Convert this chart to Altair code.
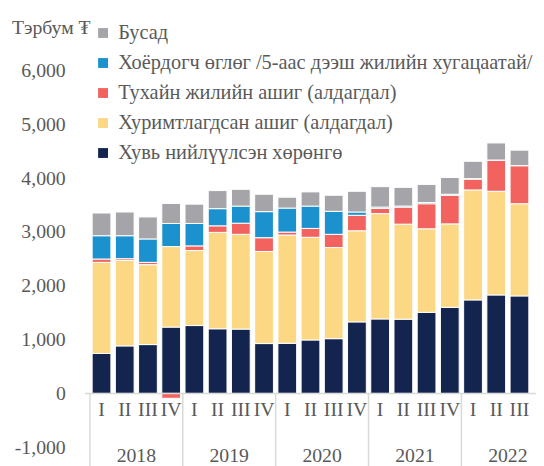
import altair as alt
import pandas as pd

quarters = ["I", "II", "III", "IV"] * 4 + ["I", "II", "III"]
years = [2018] * 4 + [2019] * 4 + [2020] * 4 + [2021] * 4 + [2022] * 3

series_names = [
    "Хувь нийлүүлсэн хөрөнгө",
    "Хуримтлагдсан ашиг (алдагдал)",
    "Тухайн жилийн ашиг (алдагдал)",
    "Хоёрдогч өглөг /5-аас дээш жилийн хугацаатай/",
    "Бусад",
]
series_colors = ["#13244f", "#fcd885", "#f2635f", "#1b91cd", "#a5a5a9"]

paid_in = [743, 884, 908, 1233, 1262, 1202, 1196, 927, 932, 994, 1018, 1330,
           1385, 1380, 1508, 1600, 1739, 1831, 1813]
retained = [1694, 1589, 1486, 1497, 1395, 1792, 1762, 1712, 2013, 1909, 1694, 1694,
            1958, 1767, 1553, 1552, 2044, 1927, 1714]
current_year = [62, 32, 43, -90, 86, 122, 207, 256, 55, 165, 246, 288,
                97, 317, 466, 532, 202, 581, 708]
subordinated = [433, 427, 435, 430, 417, 319, 318, 485, 446, 415, 427, 61,
                24, 19, 23, 19, 8, 0, 0]
other = [422, 441, 409, 372, 359, 336, 312, 323, 202, 264, 299, 385,
         380, 348, 336, 312, 323, 318, 288]

series_values = [paid_in, retained, current_year, subordinated, other]

rows = []
for s, (name, vals) in enumerate(zip(series_names, series_values)):
    for i, v in enumerate(vals):
        rows.append({"idx": i, "series": name, "ord": s, "value": v})
df = pd.DataFrame(rows)

qdf = pd.DataFrame({"idx": list(range(len(quarters))), "q": quarters})
year_list = sorted(set(years))
ydf = pd.DataFrame({
    "year": [str(y) for y in year_list],
    "pos": [years.index(y) + 1.5 for y in year_list],
})
sdf = pd.DataFrame({"b": [years.index(y) - 0.5 for y in year_list]})

FONT = "Liberation Serif, serif"
GREY = "#595959"
xscale = alt.Scale(domain=[-0.5, 18.5], nice=False, zero=False)
yscale = alt.Scale(domain=[-1000, 7000], nice=False)

bars = alt.Chart(df).mark_bar(size=19, stroke="white", strokeWidth=1).encode(
    x=alt.X("idx:Q", scale=xscale, axis=None),
    y=alt.Y("value:Q", stack="zero", scale=yscale,
            axis=alt.Axis(values=[-1000, 0, 1000, 2000, 3000, 4000, 5000, 6000],
                          labelExpr="(datum.value < 0 ? '-' : '') + format(abs(datum.value), ',')",
                          title=None, domain=False, ticks=False,
                          grid=False, labelFont=FONT, labelFontSize=20,
                          labelColor=GREY, labelPadding=20)),
    color=alt.Color("series:N",
                    scale=alt.Scale(domain=series_names[::-1], range=series_colors[::-1]),
                    legend=alt.Legend(title=None, orient="none", legendX=8, legendY=6,
                                      symbolType="square", symbolSize=100,
                                      symbolStrokeWidth=0, labelFont=FONT,
                                      labelFontSize=20.6, labelColor=GREY,
                                      labelLimit=1000, rowPadding=9.4, labelOffset=5)),
    order=alt.Order("ord:Q", sort="ascending"),
)

zero_line = alt.Chart(pd.DataFrame({"z": [0]})).mark_rule(color="#d9d9d9", strokeWidth=1.5).encode(
    y=alt.Y("z:Q", scale=yscale)
)

seps = alt.Chart(sdf).mark_rule(color="#d9d9d9", strokeWidth=1.5).encode(
    x=alt.X("b:Q", scale=xscale),
    y=alt.datum(0),
    y2=alt.value(460),
)

qlabels = alt.Chart(qdf).mark_text(font=FONT, fontSize=20, color=GREY, baseline="middle").encode(
    x=alt.X("idx:Q", scale=xscale),
    y=alt.value(398),
    text="q:N",
)

ylabels = alt.Chart(ydf).mark_text(font=FONT, fontSize=20, color=GREY, baseline="middle").encode(
    x=alt.X("pos:Q", scale=xscale),
    y=alt.value(445),
    text="year:N",
)

unit = alt.Chart(pd.DataFrame({"t": ["Тэрбум ₮"]})).mark_text(
    font=FONT, fontSize=20, color=GREY, align="left", baseline="middle"
).encode(x=alt.value(-74), y=alt.value(11), text="t:N")

chart = alt.layer(bars, zero_line, seps, qlabels, ylabels, unit).properties(
    width=457, height=436,
    autosize=alt.AutoSizeParams(type="none"),
    padding={"left": 78, "top": 6, "right": 0, "bottom": 16},
).configure_view(stroke=None)

chart.save("out.html", embed_options={"renderer": "svg", "actions": False})
